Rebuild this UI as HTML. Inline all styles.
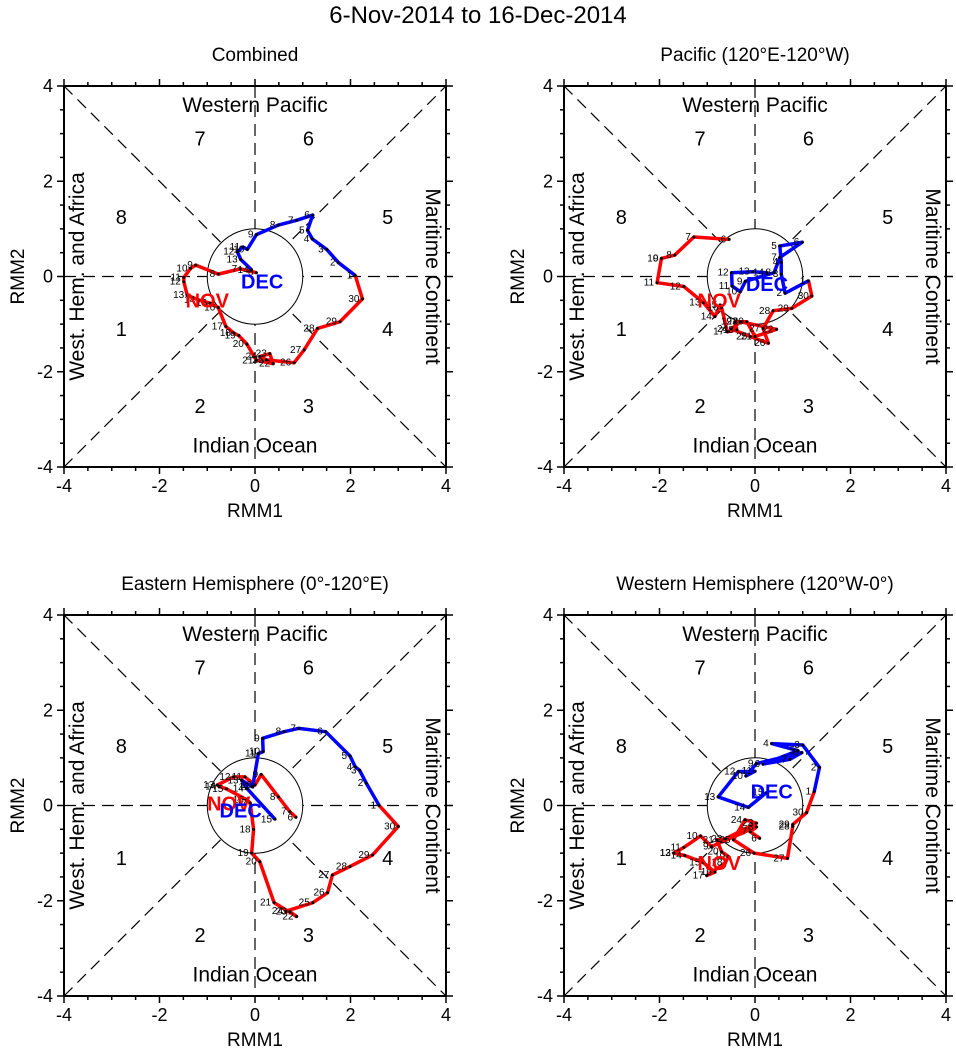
<!DOCTYPE html>
<html><head><meta charset="utf-8"><style>
html,body{margin:0;padding:0;background:#fff;}
svg{display:block;font-family:"Liberation Sans",sans-serif;}
</style></head><body>
<svg id="chart" width="956" height="1057" viewBox="0 0 956 1057" xmlns="http://www.w3.org/2000/svg">
<text x="478" y="23" font-size="24" text-anchor="middle">6-Nov-2014 to 16-Dec-2014</text>
</svg>
<script>
// Panel titles
const panelTitles = ["Combined", "Pacific (120°E-120°W)", "Eastern Hemisphere (0°-120°E)", "Western Hemisphere (120°W-0°)"];
const tickValues = [-4, -2, 0, 2, 4];
const tickLabels = ["-4", "-2", "0", "2", "4"];
const novStartDay = 6;
const decStartDay = 1;
// Panel 1 Combined: [RMM1, RMM2]
const p1Nov = [[0.03,0.08],[-0.31,0.16],[-0.77,0.05],[-1.24,0.24],[-1.35,0.17],[-1.49,-0.02],[-1.49,-0.11],[-1.42,-0.39],[-1.19,-0.49],[-0.94,-0.56],[-0.77,-0.65],[-0.61,-1.05],[-0.44,-1.19],[-0.34,-1.24],[-0.17,-1.42],[0.03,-1.76],[0.38,-1.83],[0.31,-1.62],[0.10,-1.68],[0.24,-1.75],[0.82,-1.81],[1.03,-1.54],[1.31,-1.09],[1.78,-0.95],[2.25,-0.47]];
const p1Dec = [[2.10,0.02],[1.75,0.29],[1.50,0.57],[1.20,0.79],[1.10,0.97],[1.21,1.29],[0.87,1.18],[0.49,1.08],[0.03,0.88],[-0.16,0.57],[-0.25,0.62],[-0.37,0.52],[-0.30,0.36],[-0.07,0.14]];
// Panel 2 Pacific
const p2Nov = [[-0.54,0.78],[-1.28,0.83],[-1.68,0.45],[-1.96,0.38],[-1.96,0.38],[-2.05,-0.13],[-1.49,-0.21],[-1.08,-0.55],[-0.84,-0.84],[-0.73,-0.60],[-0.70,-0.65],[-0.58,-1.16],[-0.38,-1.12],[-0.42,-0.95],[-0.17,-0.95],[0,-1.26],[0.45,-1.11],[-0.30,-0.95],[-0.50,-1.10],[-0.1,-1.26],[0.28,-1.40],[0.17,-1.09],[0.38,-0.72],[0.77,-0.67],[1.19,-0.41]];
const p2Dec = [[1.12,-0.09],[0.63,-0.35],[0.55,0.05],[0.55,0.30],[0.52,0.64],[0.99,0.72],[0.52,0.40],[0.40,0.08],[-0.20,-0.10],[-0.31,-0.32],[-0.48,-0.20],[-0.49,0.08],[-0.05,0.10],[0.25,0.08]];
// Panel 3 Eastern Hemisphere
const p3Nov = [[0.86,-0.25],[0.73,-0.13],[0.49,0.18],[0.13,0.65],[0,0.43],[-0.21,0.60],[-0.45,0.60],[-0.79,0.43],[-0.75,0.40],[-0.60,0.35],[-0.17,0.12],[-0.10,0.05],[-0.03,-0.50],[-0.07,-1.00],[0.10,-1.18],[0.40,-2.04],[0.87,-2.33],[0.73,-2.23],[0.65,-2.22],[1.21,-2.04],[1.52,-1.83],[1.62,-1.46],[1.99,-1.28],[2.46,-1.04],[3.00,-0.44]];
const p3Dec = [[2.60,0],[2.33,0.47],[2.19,0.74],[2.10,0.81],[1.99,1.04],[1.48,1.55],[0.92,1.62],[0.61,1.55],[0.16,1.41],[0.17,1.13],[0.07,1.09],[-0.05,0.39],[-0.28,0.53],[-0.17,0.36],[0.42,-0.29]];
// Panel 4 Western Hemisphere
const p4Nov = [[0.10,-0.69],[-0.10,-0.55],[0.03,-0.45],[-0.91,-0.86],[-1.14,-0.64],[-1.49,-0.88],[-1.70,-1.0],[-1.70,-1.0],[-1.47,-1.05],[-1.08,-1.20],[-0.84,-1.40],[-1.01,-1.47],[-0.62,-1.20],[-0.56,-1.07],[-0.70,-0.97],[-0.80,-0.72],[-0.62,-0.70],[0.03,-0.37],[-0.21,-0.30],[-0.45,-0.72],[-0.02,-1.00],[0.68,-1.11],[0.79,-0.44],[0.79,-0.40],[1.08,-0.15]];
const p4Dec = [[1.24,0.29],[1.35,0.80],[1.00,1.27],[0.35,1.30],[0.90,1.15],[0.17,0.87],[0.73,0.97],[0.98,1.11],[0.03,0.88],[-0.19,0.62],[0.0,0.72],[-0.35,0.71],[-0.77,0.18],[-0.14,-0.04],[0.24,0.27]];
const panelNov = [p1Nov, p2Nov, p3Nov, p4Nov];
const panelDec = [p1Dec, p2Dec, p3Dec, p4Dec];
const novLabelPos = [[-1.0,-0.65],[-0.75,-0.65],[-0.55,-0.1],[-0.75,-1.35]];
const decLabelPos = [[0.15,-0.25],[0.25,-0.3],[-0.3,-0.25],[0.35,0.15]];

const NS = "http://www.w3.org/2000/svg";
const svg = document.getElementById('chart');
function mk(tag, attrs, parent){ const e=document.createElementNS(NS,tag); for(const k in attrs) e.setAttribute(k,attrs[k]); (parent||svg).appendChild(e); return e; }
const L=64, T=86, W=382, H=381;
const offs=[[0,0],[500,0],[0,529],[500,529]];

offs.forEach((o,pi)=>{
  const x0=L+o[0], y0=T+o[1];
  const sx = v => x0 + (v+4)/8*W;
  const sy = v => y0 + (4-v)/8*H;
  const g = mk('g',{});
  
  
  const t = mk('text',{x:sx(0),y:y0-25,'font-size':19,'text-anchor':'middle'},g);
  t.textContent = panelTitles[pi];
  
  
  const dash = {stroke:'#000','stroke-width':1.2,'stroke-dasharray':'12,7',fill:'none'};
  [[sx(-4),sy(0),sx(4),sy(0)],[sx(0),sy(4),sx(0),sy(-4)],[sx(-4),sy(4),sx(4),sy(-4)],[sx(-4),sy(-4),sx(4),sy(4)]].forEach(s=>{
    const l=mk('line',Object.assign({x1:s[0],y1:s[1],x2:s[2],y2:s[3]},dash),g);
    
    
  });
  const c = mk('circle',{cx:sx(0),cy:sy(0),r:(sx(1)-sx(0)),fill:'#fff',stroke:'#000','stroke-width':1},g);
  
  
  const regions = [["Western Pacific",sx(0),sy(3.45),0],["Indian Ocean",sx(0),sy(-3.7),0]];
  regions.forEach(r=>{ const e=mk('text',{x:r[1],y:r[2],'font-size':21,'text-anchor':'middle'},g); e.textContent=r[0];
      });
  const wl = mk('text',{x:0,y:0,'font-size':21,'text-anchor':'middle',transform:`translate(${sx(-3.58)},${sy(0)}) rotate(-90)`},g);
  wl.textContent="West. Hem. and Africa";
  
  
  const ml = mk('text',{x:0,y:0,'font-size':21,'text-anchor':'middle',transform:`translate(${sx(3.58)},${sy(0)}) rotate(90)`},g);
  ml.textContent="Maritime Continent";
  
  
  const phases=[["7",-1.15,2.75],["6",1.12,2.75],["8",-2.8,1.1],["5",2.78,1.1],["1",-2.8,-1.25],["4",2.78,-1.25],["2",-1.15,-2.87],["3",1.12,-2.87]];
  phases.forEach(p=>{ const e=mk('text',{x:sx(p[1]),y:sy(p[2]),'font-size':20,'text-anchor':'middle'},g); e.textContent=p[0];
      });
  const fr=mk('rect',{x:x0,y:y0,width:W,height:H,fill:'none',stroke:'#000','stroke-width':2},g);
  
  
  for(let v=-4; v<=4.001; v+=0.5){
    const major = Math.abs(v%2)<1e-6; const len = major?7:4;
    mk('line',{x1:sx(v),y1:y0,x2:sx(v),y2:y0-len,stroke:'#000','stroke-width':1.5},g);
    mk('line',{x1:sx(v),y1:y0+H,x2:sx(v),y2:y0+H+len,stroke:'#000','stroke-width':1.5},g);
    mk('line',{x1:x0,y1:sy(v),x2:x0-len,y2:sy(v),stroke:'#000','stroke-width':1.5},g);
    mk('line',{x1:x0+W,y1:sy(v),x2:x0+W+len,y2:sy(v),stroke:'#000','stroke-width':1.5},g);
  }
  tickValues.forEach((v,i)=>{
    const a=mk('text',{x:sx(v),y:y0+H+25,'font-size':18,'text-anchor':'middle'},g); a.textContent=tickLabels[i];
     
    const b=mk('text',{x:x0-11,y:sy(v)+6,'font-size':18,'text-anchor':'end'},g); b.textContent=tickLabels[i];
     
  });
  const xt=mk('text',{x:sx(0),y:y0+H+50,'font-size':19,'text-anchor':'middle'},g); xt.textContent="RMM1";
   
  const yt=mk('text',{x:0,y:0,'font-size':19,'text-anchor':'middle',transform:`translate(${o[0]+24},${sy(0)}) rotate(-90)`},g); yt.textContent="RMM2";
   

  const nov = panelNov[pi], dec = panelDec[pi];
  const novPts = nov.concat([dec[0]]);
  const pl1=mk('polyline',{points:novPts.map(p=>sx(p[0])+','+sy(p[1])).join(' '),fill:'none',stroke:'#ff0000','stroke-width':3.5,'stroke-linejoin':'round'},g);
  
  
  const pl2=mk('polyline',{points:dec.map(p=>sx(p[0])+','+sy(p[1])).join(' '),fill:'none',stroke:'#0000ff','stroke-width':3.5,'stroke-linejoin':'round'},g);
  
  
  [[nov,novStartDay],[dec,decStartDay]].forEach(([arr,start])=>{
    arr.forEach((p,i)=>{
      const d=mk('circle',{cx:sx(p[0]),cy:sy(p[1]),r:1.5,fill:'#000'},g);
      
      
      const lb=mk('text',{x:sx(p[0])-3,y:sy(p[1])+3,'font-size':10,'text-anchor':'end'},g);
      lb.textContent=String(start+i);
      
      
    });
  });
  const nl=mk('text',{x:sx(novLabelPos[pi][0]),y:sy(novLabelPos[pi][1]),'font-size':20,'font-weight':'bold',fill:'#ff0000','text-anchor':'middle'},g);
  nl.textContent="NOV";
  
  
  const dl=mk('text',{x:sx(decLabelPos[pi][0]),y:sy(decLabelPos[pi][1]),'font-size':20,'font-weight':'bold',fill:'#0000ff','text-anchor':'middle'},g);
  dl.textContent="DEC";
  
  
});
</script>
</body></html>
